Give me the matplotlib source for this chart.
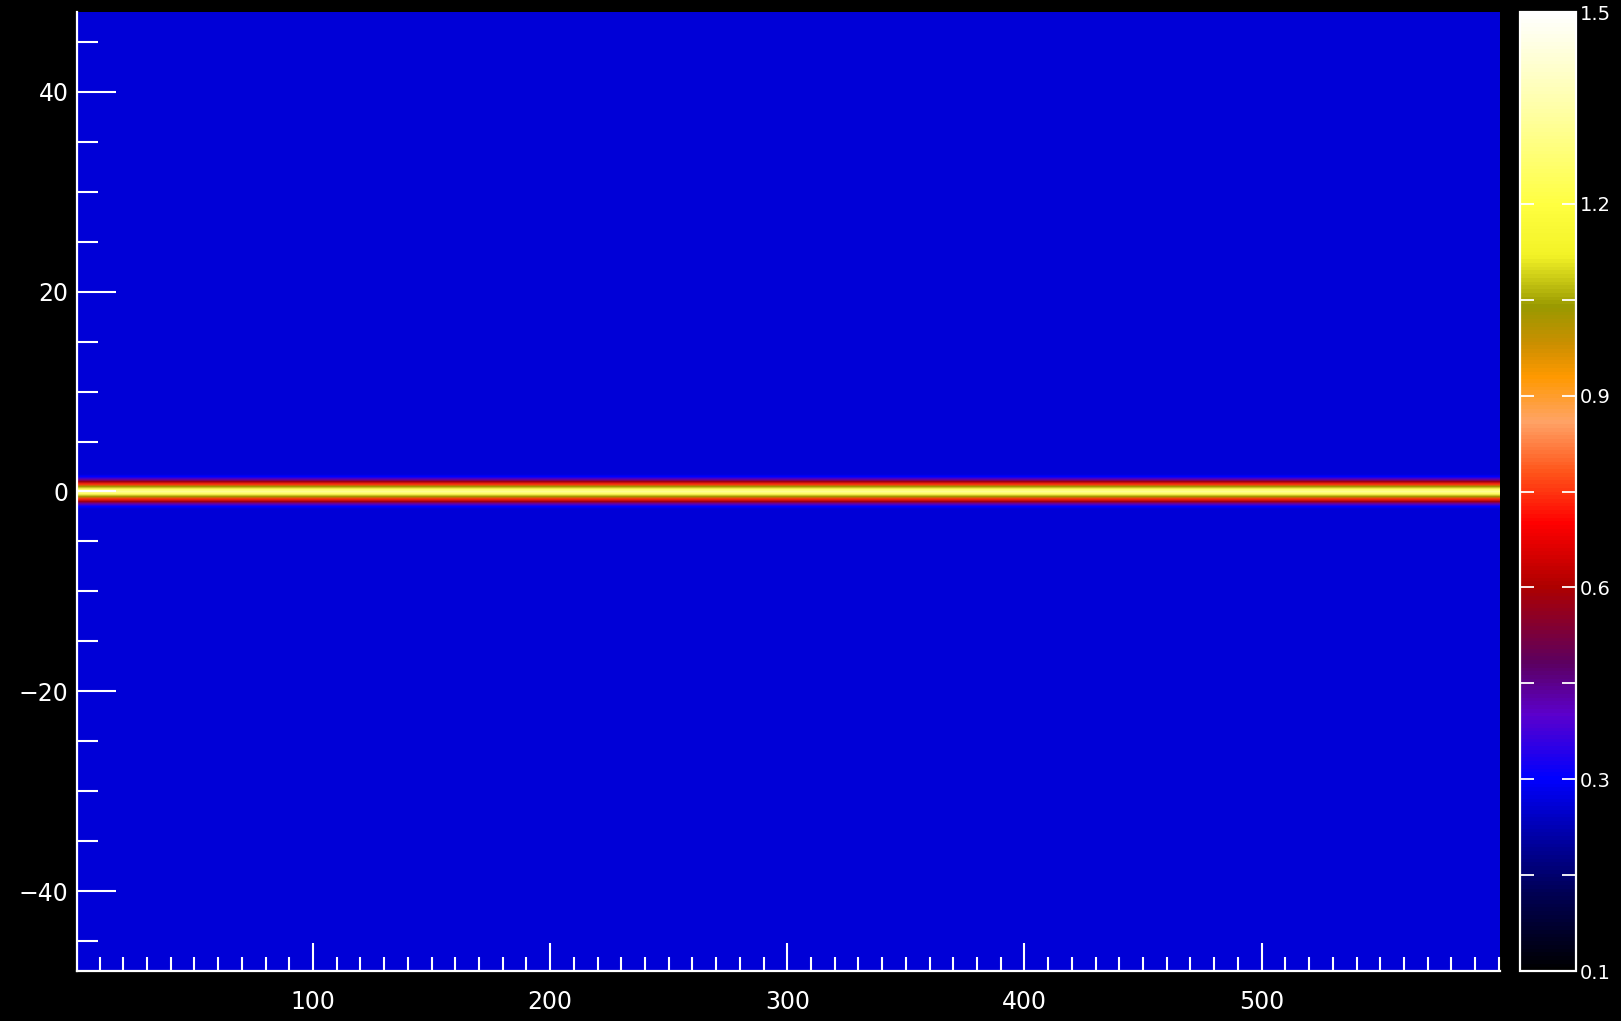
import matplotlib.pyplot as plt
import numpy as np
from matplotlib.colors import LinearSegmentedColormap
from matplotlib.ticker import MultipleLocator, FixedLocator, FixedFormatter

# data
n_cols = 600                      # samples along x (1..600)
y_step = 0.25                     # row spacing along y
y_min, y_max = -48.0, 48.0
background = 0.262                # level of the flat blue field
# bright line at y = 0 (values at offsets from the centre row)
line_offsets = [-1.5, -1.25, -1.0, -0.75, -0.5, -0.25, 0.0, 0.25, 0.5, 0.75, 1.0, 1.25, 1.5]
line_values = [0.30, 0.42, 0.58, 0.74, 1.02, 1.24, 1.32, 1.24, 1.02, 0.74, 0.58, 0.42, 0.30]

cbar_ticks = [0.0, 0.3, 0.6, 0.9, 1.2, 1.5]
cbar_labels = ["0.1", "0.3", "0.6", "0.9", "1.2", "1.5"]

# colour table (value, colour) like the IDL/ds9 style one in the picture
cmap_pts = [
    (0.00, (0.0, 0.0, 0.0)),
    (0.12, (0.0, 0.0, 0.33)),
    (0.20, (0.0, 0.0, 0.62)),
    (0.30, (0.0, 0.0, 1.0)),
    (0.40, (0.36, 0.0, 0.80)),
    (0.48, (0.36, 0.0, 0.38)),
    (0.60, (0.68, 0.0, 0.0)),
    (0.70, (1.0, 0.0, 0.0)),
    (0.78, (1.0, 0.33, 0.1)),
    (0.86, (1.0, 0.64, 0.40)),
    (0.93, (1.0, 0.60, 0.0)),
    (0.98, (0.80, 0.56, 0.0)),
    (1.04, (0.60, 0.60, 0.0)),
    (1.12, (0.95, 0.95, 0.15)),
    (1.20, (1.0, 1.0, 0.25)),
    (1.35, (1.0, 1.0, 0.65)),
    (1.50, (1.0, 1.0, 1.0)),
]
vmin, vmax = 0.0, 1.5
cmap = LinearSegmentedColormap.from_list(
    "heat", [((v - vmin) / (vmax - vmin), c) for v, c in cmap_pts])

# build the image
rows = np.arange(y_min, y_max + y_step / 2, y_step)
profile = np.full(rows.size, background)
for off, val in zip(line_offsets, line_values):
    profile[np.argmin(np.abs(rows - off))] = val
img = np.tile(profile[:, None], (1, n_cols))

fig = plt.figure(figsize=(16.21, 10.21), dpi=100, facecolor="black")
ax = fig.add_axes([77 / 1621, 50 / 1021, 1423 / 1621, 959 / 1021])
cax = fig.add_axes([1520 / 1621, 50 / 1021, 56 / 1621, 959 / 1021])

im = ax.imshow(img, origin="lower", aspect="auto", cmap=cmap, vmin=vmin, vmax=vmax,
               extent=(0.5, n_cols + 0.5, y_min, y_max), interpolation="bilinear")

ax.set_facecolor("black")
for s in ["top", "right"]:
    ax.spines[s].set_visible(False)
for s in ["left", "bottom"]:
    ax.spines[s].set_color("white")
    ax.spines[s].set_linewidth(1.6)

ax.xaxis.set_major_locator(MultipleLocator(100))
ax.xaxis.set_minor_locator(MultipleLocator(10))
ax.yaxis.set_major_locator(MultipleLocator(20))
ax.yaxis.set_minor_locator(MultipleLocator(5))
ax.tick_params(axis="x", which="major", direction="in", length=20, width=1.5,
               color="white", labelcolor="white", labelsize=17, pad=14)
ax.tick_params(axis="x", which="minor", direction="in", length=10, width=1.5, color="white")
ax.tick_params(axis="y", which="major", direction="in", length=28, width=1.5,
               color="white", labelcolor="white", labelsize=17, pad=6)
ax.tick_params(axis="y", which="minor", direction="in", length=15, width=1.5, color="white")
ax.set_xticks([100, 200, 300, 400, 500])
ax.set_xticklabels(["100", "200", "300", "400", "500"])

cb = fig.colorbar(im, cax=cax)
cb.outline.set_edgecolor("white")
cb.outline.set_linewidth(1.6)
cb.ax.yaxis.set_major_locator(FixedLocator(cbar_ticks))
cb.ax.yaxis.set_major_formatter(FixedFormatter(cbar_labels))
cb.ax.yaxis.set_minor_locator(FixedLocator([0.15, 0.45, 0.75, 1.05]))
cb.ax.tick_params(which="both", direction="in", length=10, width=1.3, color="white",
                  labelcolor="white", labelsize=14, pad=3, left=True, right=True)

plt.savefig("out.png", dpi=100, facecolor="black")
